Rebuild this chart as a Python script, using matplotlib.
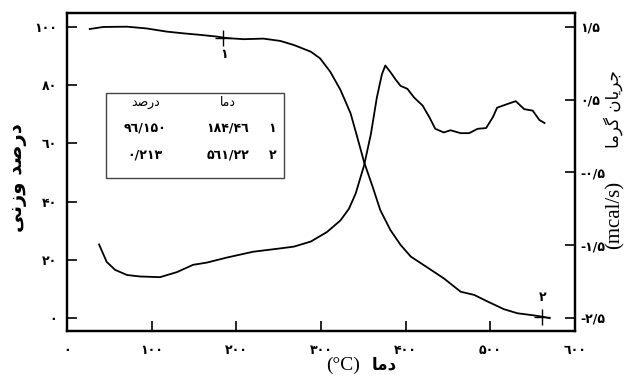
import matplotlib
matplotlib.use('Agg')
import matplotlib.pyplot as plt
from matplotlib.patches import Rectangle

# TGA curve (weight percent, left axis)
tga_temp = [27, 43, 71, 94, 118, 138, 157, 177, 186, 193, 209, 232, 252, 268, 288, 299, 311, 323,
            335, 343, 351, 361, 370, 382, 394, 406, 430, 445, 465, 481, 497, 516, 532, 548, 562, 570]
tga_weight = [99.3, 100.0, 100.1, 99.5, 98.4, 97.8, 97.3, 96.7, 96.3, 96.1, 95.8, 96.0, 95.2, 93.8,
              91.5, 89.2, 84.6, 78.4, 70.3, 62.0, 53.5, 45.1, 37.1, 30.2, 25.1, 21.1, 16.5, 13.6,
              9.0, 7.9, 5.6, 3.0, 1.6, 1.0, 0.4, -0.1]

# DSC curve (heat flow, right axis)
dsc_temp = [38, 47, 57, 71, 86, 110, 130, 149, 165, 189, 220, 248, 268, 288, 307, 323, 333, 341,
            351, 359, 366, 372, 376, 382, 388, 394, 402, 410, 420, 428, 435, 445, 453, 465, 475,
            485, 495, 503, 508, 520, 530, 540, 550, 558, 564]
dsc_flow = [-1.49, -1.73, -1.84, -1.91, -1.93, -1.94, -1.87, -1.77, -1.74, -1.67, -1.59, -1.55,
            -1.52, -1.45, -1.32, -1.16, -1.0, -0.79, -0.40, 0.03, 0.53, 0.85, 0.97, 0.88, 0.78,
            0.69, 0.65, 0.53, 0.42, 0.26, 0.10, 0.05, 0.08, 0.04, 0.04, 0.10, 0.11, 0.26, 0.39,
            0.44, 0.48, 0.37, 0.35, 0.22, 0.18]

# marked points
mark_temp = [184.46, 561.22]
mark_weight = [96.150, 0.213]
mark_names = ['۱', '۲']

# tick labels
x_ticks = [0, 100, 200, 300, 400, 500, 600]
x_labels = ['۰', '۱۰۰', '۲۰۰', '۳۰۰', '۴۰۰', '۵۰۰', '٦۰۰']
yl_ticks = [0, 20, 40, 60, 80, 100]
yl_labels = ['۰', '۲۰', '۴۰', '٦۰', '۸۰', '۱۰۰']
yr_ticks = [-2.5, -1.5, -0.5, 0.5, 1.5]
yr_labels = ['-۲/۵', '-۱/۵', '-۰/۵', '۰/۵', '۱/۵']

# table
tbl_head = ['\uFEAA\uFEBB\uFEAD\uFEA9', '\uFE8E\uFEE3\uFEA9']   # درصد , دما
tbl_rows = [['۹٦/۱۵۰', '۱۸۴/۴٦', '۱'], ['۰/۲۱۳', '۵٦۱/۲۲', '۲']]

ylabel_left = '\uFBFD\uFEE7\uFEAF\uFEED \uFEAA\uFEBB\uFEAD\uFEA9'   # درصد وزنی
ylabel_right = '\uFE8E\uFEE3\uFEAE\uFB94 \uFEE5\uFE8E\uFBFE\uFEAE\uFE9F'  # جریان گرما
xlabel_fa = '\uFE8E\uFEE3\uFEA9'  # دما

fig = plt.figure(figsize=(6.37, 3.77), dpi=100)
ax = fig.add_axes([0.105, 0.122, 0.7977, 0.8435])
ax2 = ax.twinx()

ax.plot(tga_temp, tga_weight, color='black', lw=1.3)
ax2.plot(dsc_temp, dsc_flow, color='black', lw=1.3)
ax.plot(mark_temp, mark_weight, '+', color='black', ms=12, mew=1.0)
ax.text(mark_temp[0] + 1, 90.5, mark_names[0], ha='center', va='center', fontsize=9,
        family='DejaVu Sans', fontweight='bold')
ax.text(mark_temp[1], 7.0, mark_names[1], ha='center', va='center', fontsize=9,
        family='DejaVu Sans', fontweight='bold')

ax.set_xlim(0, 600)
ax.set_ylim(-4.5, 104.8)
ax2.set_ylim(-2.68, 1.692)

ax.set_xticks(x_ticks)
ax.set_xticklabels(x_labels)
ax.set_yticks(yl_ticks)
ax.set_yticklabels(yl_labels)
ax2.set_yticks(yr_ticks)
ax2.set_yticklabels(yr_labels)

ax.tick_params(axis='x', direction='in', length=7, width=1.2, pad=9, labelsize=9)
ax.tick_params(axis='y', direction='in', length=7, width=1.2, pad=7, labelsize=9)
ax2.tick_params(axis='y', direction='in', length=7, width=1.2, pad=4, labelsize=9)
for lab in ax.get_xticklabels() + ax.get_yticklabels() + ax2.get_yticklabels():
    lab.set_fontweight('bold')
    lab.set_family('DejaVu Sans')

for a in (ax, ax2):
    for s in a.spines.values():
        s.set_linewidth(1.6)

# axis labels
fig.text(0.027, 0.53, ylabel_left, rotation=90, ha='center', va='center', fontsize=14,
         fontweight='bold', family='DejaVu Sans')
fig.text(0.962, 0.71, ylabel_right, rotation=90, ha='center', va='center', fontsize=12,
         family='DejaVu Sans')
fig.text(0.966, 0.43, '(mcal/s)', rotation=90, ha='center', va='center', fontsize=15,
         family='Liberation Serif')
fig.text(0.565, 0.032, '(°C)', ha='right', va='center', fontsize=14, family='Liberation Serif')
fig.text(0.584, 0.032, xlabel_fa, ha='left', va='center', fontsize=12, fontweight='bold',
         family='DejaVu Sans')

# inset table
ax.add_patch(Rectangle((0.077, 0.481), 0.35, 0.267, transform=ax.transAxes, fill=False,
                       edgecolor='#444444', lw=1.0, zorder=5))
ax.text(0.154, 0.72, tbl_head[0], transform=ax.transAxes, ha='center', va='center', fontsize=9,
        family='DejaVu Sans')
ax.text(0.317, 0.72, tbl_head[1], transform=ax.transAxes, ha='center', va='center', fontsize=9,
        family='DejaVu Sans')
row_y = [0.638, 0.553]
col_x = [0.154, 0.317, 0.404]
for r, yy in zip(tbl_rows, row_y):
    for val, xx in zip(r, col_x):
        ax.text(xx, yy, val, transform=ax.transAxes, ha='center', va='center', fontsize=9,
                family='DejaVu Sans', fontweight='bold')

fig.savefig('out.png', dpi=100)
